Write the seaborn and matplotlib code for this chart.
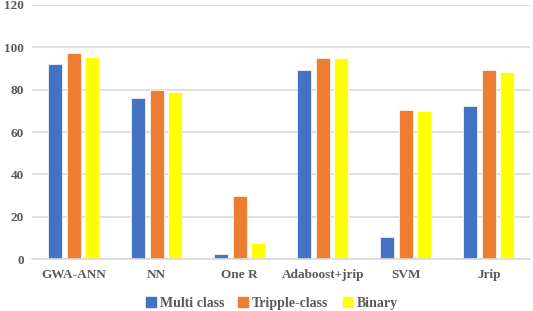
import matplotlib.pyplot as plt
import pandas as pd
import seaborn as sns

methods = ["GWA-ANN", "NN", "One R", "Adaboost+jrip", "SVM", "Jrip"]
multi_class = [92.1, 75.9, 2.2, 89.1, 10.3, 72.5]
tripple_class = [97.2, 80.0, 29.8, 95.1, 70.5, 89.1]
binary = [95.6, 79.0, 7.7, 95.1, 69.9, 88.5]
series = ["Multi class", "Tripple-class", "Binary"]
colors = ["#4472C4", "#ED7D31", "#FFFF00"]

df = pd.DataFrame({"method": methods, "Multi class": multi_class,
                   "Tripple-class": tripple_class, "Binary": binary})
df_long = df.melt(id_vars="method", var_name="series", value_name="value")

sns.set_theme(style="white")
plt.rcParams['font.family'] = ['Liberation Serif', 'DejaVu Serif']
plt.rcParams['font.weight'] = 'bold'

fig = plt.figure(figsize=(5.33, 3.11), dpi=100)
ax = fig.add_axes([0.060, 0.167, 0.935, 0.817])

sns.barplot(data=df_long, x="method", y="value", hue="series", hue_order=series,
            palette=colors, saturation=1, width=0.665, gap=0.24, ax=ax,
            legend=False, edgecolor="white", linewidth=0.5)

ax.set_ylim(0, 120)
ax.set_yticks(range(0, 121, 20))
ax.yaxis.grid(True, color="#d9d9d9", linewidth=1.2)
ax.set_axisbelow(True)
for s in ["top", "right", "left"]:
    ax.spines[s].set_visible(False)
ax.spines["bottom"].set_color("#d9d9d9")
ax.spines["bottom"].set_linewidth(1.2)
ax.set_xlabel("")
ax.set_ylabel("")
ax.tick_params(axis="both", length=0, labelsize=9.5, labelcolor="#595959")
ax.tick_params(axis="x", pad=7)
ax.tick_params(axis="y", pad=6)
for lab in ax.get_xticklabels() + ax.get_yticklabels():
    lab.set_fontweight("bold")

handles = [plt.Rectangle((0, 0), 1, 1, color=c) for c in colors]
fig.legend(handles, series, loc="center", bbox_to_anchor=(0.51, 0.024), ncol=3,
           frameon=False, prop={"weight": "bold", "size": 10},
           labelcolor="#595959", handlelength=0.7, handleheight=0.7,
           handletextpad=0.3, columnspacing=1.0)

fig.savefig("out.png", dpi=100)
